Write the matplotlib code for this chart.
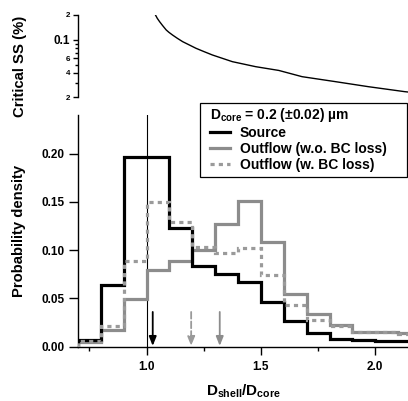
import numpy as np
import matplotlib
matplotlib.use('Agg')
import matplotlib.pyplot as plt
from matplotlib.ticker import NullFormatter
from matplotlib.patches import Rectangle

plt.rcParams['font.family'] = 'Liberation Sans'
plt.rcParams['font.weight'] = 'bold'
plt.rcParams['mathtext.fontset'] = 'custom'
plt.rcParams['mathtext.rm'] = 'Liberation Sans:bold'
plt.rcParams['mathtext.it'] = 'Liberation Sans:bold'
plt.rcParams['mathtext.bf'] = 'Liberation Sans:bold'

# ---- data ----
# histogram bin edges of Dshell/Dcore
edges = [0.7, 0.8, 0.9, 1.0, 1.1, 1.2, 1.3, 1.4, 1.5, 1.6, 1.7, 1.8, 1.9, 2.0, 2.1, 2.2]
source = [0.007, 0.064, 0.196, 0.196, 0.123, 0.0835, 0.075, 0.067,
          0.046, 0.027, 0.014, 0.008, 0.007, 0.006, 0.006]
outflow_noloss = [0.005, 0.017, 0.049, 0.079, 0.089, 0.100, 0.127, 0.151,
                  0.108, 0.055, 0.0335, 0.023, 0.0155, 0.0155, 0.014]
outflow_loss = [0.006, 0.021, 0.089, 0.150, 0.129, 0.103, 0.097, 0.102,
                0.074, 0.043, 0.028, 0.021, 0.0155, 0.015, 0.013]

# arrows (mean Dshell/Dcore): source, outflow w.o. loss, outflow w. loss
arrow_x = [1.027, 1.32, 1.195]

# critical supersaturation curve (top panel)
ratio = [1.030, 1.039, 1.047, 1.057, 1.070, 1.086, 1.098, 1.114, 1.135,
         1.158, 1.185, 1.216, 1.250, 1.288, 1.375, 1.477, 1.578, 1.680,
         1.825, 1.970, 2.129, 2.160]
crit_ss = [0.23, 0.200, 0.182, 0.166, 0.149, 0.1315, 0.123, 0.114, 0.104,
           0.0948, 0.087, 0.0788, 0.072, 0.0653, 0.0542, 0.0471, 0.0424,
           0.0356, 0.031, 0.0269, 0.0234, 0.0229]

labels = ['Source', 'Outflow (w.o. BC loss)', 'Outflow (w. BC loss)']
gray1 = '#8c8c8c'
gray2 = '#9a9a9a'

fig = plt.figure(figsize=(4.08, 4.01), dpi=100)
ax_top = fig.add_axes([0.191, 0.7574, 0.809, 0.2052])
ax = fig.add_axes([0.191, 0.1354, 0.809, 0.5778])

xlim = (0.7, 2.143)

# ---- top panel ----
ax_top.plot(ratio, crit_ss, color='k', lw=1.0)
ax_top.set_yscale('log')
ax_top.set_ylim(0.02, 0.2)
ax_top.set_xlim(*xlim)
for s in ['top', 'right', 'bottom']:
    ax_top.spines[s].set_visible(False)
ax_top.spines['left'].set_linewidth(1.0)
ax_top.set_xticks([])
ax_top.set_yticks([0.02, 0.04, 0.06, 0.1, 0.2])
ax_top.set_yticklabels(['2', '4', '6', '0.1', '2'])
ax_top.set_yticks([0.03, 0.05, 0.07, 0.08, 0.09], minor=True)
ax_top.yaxis.set_minor_formatter(NullFormatter())
ax_top.tick_params(axis='y', which='major', length=3.5, width=1, pad=2)
ax_top.tick_params(axis='y', which='minor', length=2.5, width=1)
for t in ax_top.get_yticklabels():
    t.set_fontsize(8.5 if t.get_text() == '0.1' else 5.8)

# ---- bottom panel ----
ax.stairs(outflow_noloss, edges, color=gray1, lw=2.3, label=labels[1], zorder=2)
ax.stairs(source, edges, color='k', lw=2.3, label=labels[0], zorder=3)
ax.stairs(outflow_loss, edges, color=gray2, lw=2.3, linestyle=(0, (1.3, 1.3)),
          label=labels[2], zorder=4)

ax.axvline(1.0, color='k', lw=0.8, zorder=1)

arrow_col = ['k', gray1, gray2]
arrow_ls = ['-', '-', '--']
for x, c, ls in zip(arrow_x, arrow_col, arrow_ls):
    ax.annotate('', xy=(x, 0.0008), xytext=(x, 0.036),
                arrowprops=dict(arrowstyle='-|>,head_length=0.55,head_width=0.22',
                                color=c, lw=1.3, linestyle=ls,
                                shrinkA=0, shrinkB=0))

ax.set_xlim(*xlim)
ax.set_ylim(0, 0.24)
for s in ['top', 'right']:
    ax.spines[s].set_visible(False)
ax.spines['left'].set_linewidth(1.0)
ax.spines['bottom'].set_linewidth(1.0)
ax.set_xticks([1.0, 1.5, 2.0])
ax.set_xticklabels(['1.0', '1.5', '2.0'])
ax.set_xticks([0.75, 1.25, 1.75], minor=True)
ax.set_yticks([0.0, 0.05, 0.10, 0.15, 0.20])
ax.set_yticklabels(['0.00', '0.05', '0.10', '0.15', '0.20'])
ax.tick_params(axis='x', which='major', length=5.5, width=1, pad=5, labelsize=8.5)
ax.tick_params(axis='x', which='minor', length=3, width=1)
ax.tick_params(axis='y', which='major', length=6.5, width=1, pad=3, labelsize=8.5)

# axis titles
fig.text(20 / 408, 1 - 66 / 401, 'Critical SS (%)', rotation=90,
         ha='center', va='center', fontsize=10.7)
fig.text(19 / 408, 1 - 231 / 401, 'Probability density', rotation=90,
         ha='center', va='center', fontsize=10.7)
fig.text(244 / 408, 1 - 391 / 401, r'$D_{shell}$/$D_{core}$',
         ha='center', va='center', fontsize=11)

# legend box (drawn separately, wider than its content)
box = Rectangle((200 / 408, 1 - 177 / 401), 207 / 408, 74 / 401,
                transform=fig.transFigure, facecolor='white', edgecolor='k',
                lw=0.9, zorder=4)
fig.patches.append(box)

h, l = ax.get_legend_handles_labels()
hd = dict(zip(l, h))
leg = fig.legend([hd[k] for k in labels], labels, loc='upper left',
                 bbox_to_anchor=(210 / 408, 1 - 106 / 401),
                 bbox_transform=fig.transFigure,
                 title=r'$D_{core}$ = 0.2 (±0.02) µm', title_fontsize=10,
                 fontsize=10, frameon=False, borderaxespad=0, borderpad=0,
                 handlelength=1.45, handletextpad=0.7, labelspacing=0.15,
                 alignment='left')
leg.set_zorder(5)

fig.savefig('out.png', dpi=100)
